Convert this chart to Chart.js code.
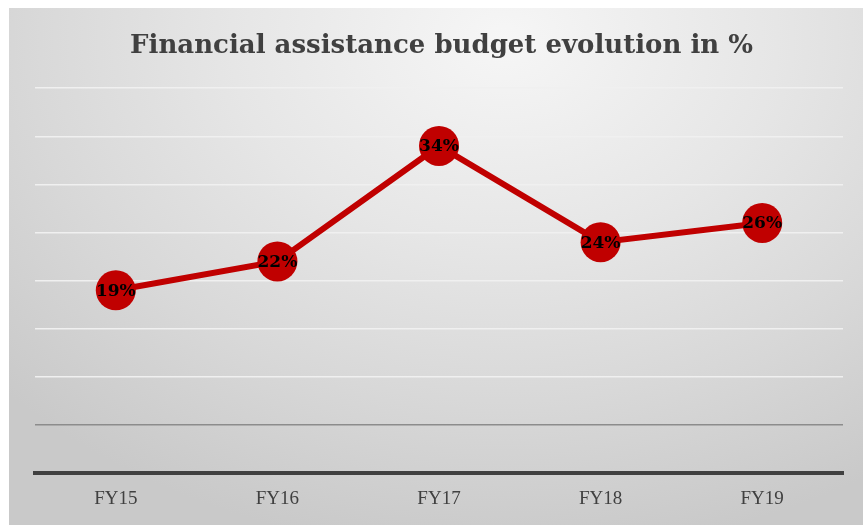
<!DOCTYPE html>
<html>
<head>
<meta charset="utf-8">
<script src="https://cdn.jsdelivr.net/npm/chart.js@4"></script>
<style>
  html, body { margin: 0; padding: 0; background: #fff; overflow: hidden; }
  #panel {
    position: absolute; left: 9px; top: 8px; width: 854px; height: 517px;
    background: radial-gradient(ellipse 80% 100% at 58% 6%, #f6f6f6 0%, #e6e6e6 40%, #d8d8d8 70%, #c9c9c9 100%);
  }
  canvas { display: block; }
</style>
</head>
<body>
<div id="panel"><canvas id="budgetChart" width="854" height="517"></canvas></div>
<script>
var years = ["FY15", "FY16", "FY17", "FY18", "FY19"];
var budgetPct = [19, 22, 34, 24, 26];
var yMin = 0;
var yMax = 40;
var yStep = 5;

// draws the % value on top of each point
var pointLabels = {
  id: 'pointLabels',
  afterDatasetsDraw: function(chart) {
    var c = chart.ctx;
    var meta = chart.getDatasetMeta(0);
    c.save();
    c.font = 'bold 17px "DejaVu Serif"';
    c.fillStyle = '#000';
    c.textAlign = 'center';
    c.textBaseline = 'middle';
    meta.data.forEach(function(pt, i) {
      c.fillText(budgetPct[i] + '%', pt.x, pt.y + 1);
    });
    c.restore();
  }
};

var ctx = document.getElementById('budgetChart').getContext("2d");

var myChart = new Chart(ctx, {
  type: 'line',
  data: {
    labels: years,
    datasets: [{
        label: "Budget",
        data: budgetPct,
        borderColor: "#c00000",
        borderWidth: 6,
        pointRadius: 20,
        pointHoverRadius: 20,
        pointBackgroundColor: "#c00000",
        pointBorderWidth: 0,
        fill: false,
        tension: 0
      }
    ]
  },
  options: {
    responsive: false,
    animation: false,
    layout: {
      padding: { left: 26, right: 15, top: 0, bottom: 9 }
    },
    scales: {
      x: {
        offset: true,
        grid: { display: false },
        border: { color: '#404040', width: 4 },
        ticks: {
          color: '#404040',
          padding: 6,
          font: { family: '"Liberation Serif"', size: 19 }
        },
        afterFit: function(scale) {
          scale.paddingLeft = 0;
          scale.paddingRight = 0;
        }
      },
      y: {
        min: yMin,
        max: yMax,
        border: { display: false },
        ticks: { display: false, stepSize: yStep },
        grid: {
          drawTicks: false,
          lineWidth: 1.5,
          color: function(c) {
            if (c.tick.value === 0) return 'transparent';
            if (c.tick.value === 5) return '#8c8c8c';
            return '#f0f0f0';
          }
        }
      }
    },
    plugins: {
      legend: { display: false },
      tooltip: { enabled: false },
      title: {
        display: true,
        text: 'Financial assistance budget evolution in %',
        color: '#404040',
        padding: { top: 23, bottom: 26 },
        font: { family: '"DejaVu Serif"', size: 26, weight: 'bold' }
      }
    }
  },
  plugins: [pointLabels]
});
</script>
</body>
</html>
